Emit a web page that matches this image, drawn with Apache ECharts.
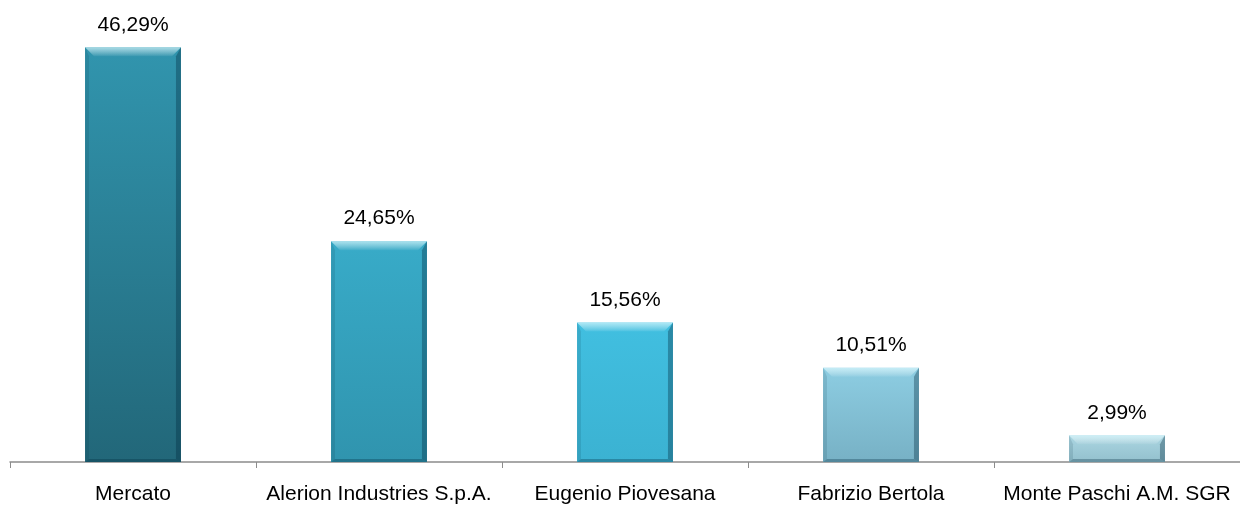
<!DOCTYPE html>
<html>
<head>
<meta charset="utf-8">
<script src="https://cdn.jsdelivr.net/npm/echarts@6/dist/echarts.min.js"></script>
<style>
html,body{margin:0;padding:0;background:#fff;}
#main{width:1240px;height:505px;}
</style>
</head>
<body>
<div id="main"></div>
<script>
// dati
var categories = ['Mercato', 'Alerion Industries S.p.A.', 'Eugenio Piovesana', 'Fabrizio Bertola', 'Monte Paschi A.M. SGR'];
var quote = [46.29, 24.65, 15.56, 10.51, 2.99];

// colori delle barre (alto, basso)
var topColors = ['#3195ae', '#38abc8', '#41bfe0', '#8dcde2', '#abd6e2'];
var bottomColors = ['#226779', '#3094ae', '#3bb2d2', '#77b1c5', '#93c0cd'];

var myChart = echarts.init(document.getElementById('main'));

function fmt(v){
	return v.toFixed(2).replace('.', ',') + '%';
}

function renderBar(params, api){
	var i = params.dataIndex;
	var top = api.coord([api.value(0), api.value(1)]);
	var base = api.coord([api.value(0), 0]);
	var w = api.size([1, 0])[0] * 0.39;
	var x0 = top[0] - w / 2, x1 = top[0] + w / 2;
	var y0 = top[1], y1 = base[1];
	var b = Math.min(9, (y1 - y0) / 3);
	return {
		type: 'group',
		children: [
			{
				type: 'rect',
				shape: {x: x0, y: y0, width: w, height: y1 - y0},
				style: {
					fill: new echarts.graphic.LinearGradient(0, 0, 0, 1, [
						{offset: 0, color: topColors[i]},
						{offset: 1, color: bottomColors[i]}
					])
				}
			},
			{ // riflesso in alto
				type: 'polygon',
				shape: {points: [[x0, y0], [x1, y0], [x1 - b, y0 + b], [x0 + b, y0 + b]]},
				style: {
					fill: new echarts.graphic.LinearGradient(0, 0, 0, 1, [
						{offset: 0, color: 'rgba(220,250,255,0.7)'},
						{offset: 1, color: 'rgba(255,255,255,0.05)'}
					])
				}
			},
			{ // lato destro
				type: 'polygon',
				shape: {points: [[x1, y0], [x1, y1], [x1 - 5, y1 - 3], [x1 - 5, y0 + b]]},
				style: {fill: 'rgba(0,40,60,0.35)'}
			},
			{ // lato sinistro
				type: 'polygon',
				shape: {points: [[x0, y0], [x0 + 4, y0 + b], [x0 + 4, y1 - 3], [x0, y1]]},
				style: {fill: 'rgba(0,40,60,0.12)'}
			},
			{ // fondo
				type: 'polygon',
				shape: {points: [[x0, y1], [x0 + 4, y1 - 3], [x1 - 5, y1 - 3], [x1, y1]]},
				style: {fill: 'rgba(0,40,60,0.3)'}
			},
			{
				type: 'text',
				style: {
					text: fmt(api.value(1)),
					x: top[0],
					y: y0 - 12,
					align: 'center',
					verticalAlign: 'bottom',
					fill: '#000',
					font: '21px "Liberation Sans", Arial, sans-serif'
				}
			}
		]
	};
}

var options = {
	animation: false,
	grid: {left: 10, right: 0, top: 14, bottom: 43},
	xAxis: {
		type: 'category',
		data: categories,
		axisLine: {lineStyle: {color: '#8c8c8c', width: 1.5}},
		axisTick: {show: true, length: 6, lineStyle: {color: '#8c8c8c'}},
		axisLabel: {
			color: '#000',
			fontSize: 21,
			fontFamily: '"Liberation Sans", Arial, sans-serif',
			margin: 22,
			interval: 0
		}
	},
	yAxis: {
		type: 'value',
		min: 0,
		max: 50,
		show: false
	},
	series: [{
		type: 'custom',
		renderItem: renderBar,
		data: quote.map(function(v, i){ return [i, v]; }),
		z: 3
	}]
};
myChart.setOption(options);
</script>
</body>
</html>
